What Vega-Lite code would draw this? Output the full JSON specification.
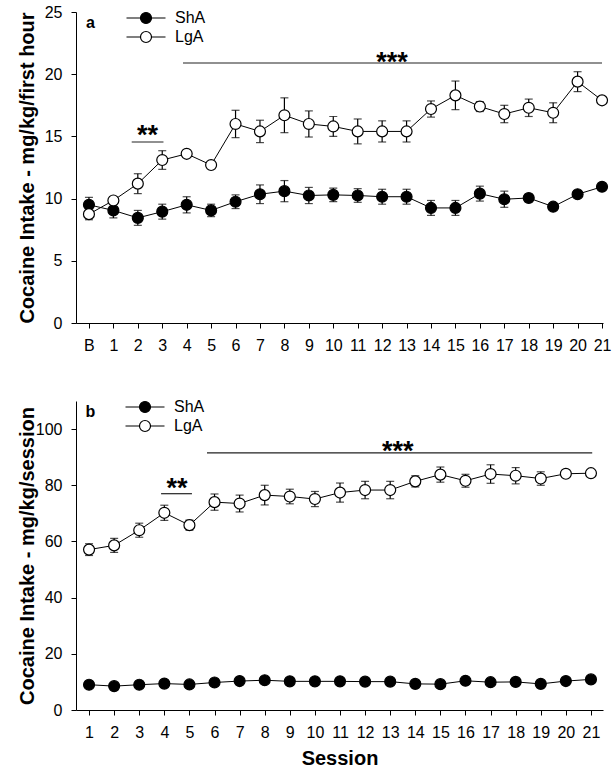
{
  "$schema": "https://vega.github.io/schema/vega-lite/v6.json",
  "background": "white",
  "padding": {"top": 4, "left": 17, "right": 5, "bottom": 5},
  "spacing": 43,
  "config": {
    "view": {"stroke": null},
    "font": "Liberation Sans",
    "axis": {
      "grid": false,
      "domainColor": "black",
      "domainWidth": 1,
      "tickColor": "black",
      "tickSize": 5,
      "labelColor": "black",
      "labelFontSize": 16,
      "labelPadding": 9,
      "titleColor": "black",
      "titleFontSize": 20,
      "titleFontWeight": "bold",
      "labelFlush": false,
      "labelOverlap": false
    },
    "axisY": {"labelPadding": 9, "titleX": -39},
    "axisX": {"titlePadding": 8}
  },
  "datasets": {
    "top": [
      {"s": 0, "g": "ShA", "v": 9.5, "lo": 8.9, "hi": 10.1},
      {"s": 1, "g": "ShA", "v": 9.05, "lo": 8.45, "hi": 9.65},
      {"s": 2, "g": "ShA", "v": 8.45, "lo": 7.85, "hi": 9.05},
      {"s": 3, "g": "ShA", "v": 8.95, "lo": 8.35, "hi": 9.55},
      {"s": 4, "g": "ShA", "v": 9.5, "lo": 8.85, "hi": 10.15},
      {"s": 5, "g": "ShA", "v": 9.05, "lo": 8.55, "hi": 9.55},
      {"s": 6, "g": "ShA", "v": 9.75, "lo": 9.2, "hi": 10.3},
      {"s": 7, "g": "ShA", "v": 10.35, "lo": 9.6, "hi": 11.1},
      {"s": 8, "g": "ShA", "v": 10.6, "lo": 9.75, "hi": 11.45},
      {"s": 9, "g": "ShA", "v": 10.25, "lo": 9.6, "hi": 10.9},
      {"s": 10, "g": "ShA", "v": 10.3, "lo": 9.75, "hi": 10.85},
      {"s": 11, "g": "ShA", "v": 10.25, "lo": 9.7, "hi": 10.8},
      {"s": 12, "g": "ShA", "v": 10.15, "lo": 9.55, "hi": 10.75},
      {"s": 13, "g": "ShA", "v": 10.15, "lo": 9.55, "hi": 10.75},
      {"s": 14, "g": "ShA", "v": 9.25, "lo": 8.65, "hi": 9.85},
      {"s": 15, "g": "ShA", "v": 9.25, "lo": 8.65, "hi": 9.85},
      {"s": 16, "g": "ShA", "v": 10.4, "lo": 9.8, "hi": 11.0},
      {"s": 17, "g": "ShA", "v": 9.95, "lo": 9.3, "hi": 10.6},
      {"s": 18, "g": "ShA", "v": 10.05, "lo": 9.75, "hi": 10.35},
      {"s": 19, "g": "ShA", "v": 9.35, "lo": 9.2, "hi": 9.5},
      {"s": 20, "g": "ShA", "v": 10.35, "lo": 10.2, "hi": 10.5},
      {"s": 21, "g": "ShA", "v": 10.95, "lo": 10.8, "hi": 11.1},
      {"s": 0, "g": "LgA", "v": 8.75, "lo": 8.3, "hi": 9.2},
      {"s": 1, "g": "LgA", "v": 9.85, "lo": 9.65, "hi": 10.05},
      {"s": 2, "g": "LgA", "v": 11.2, "lo": 10.4, "hi": 12.0},
      {"s": 3, "g": "LgA", "v": 13.1, "lo": 12.35, "hi": 13.85},
      {"s": 4, "g": "LgA", "v": 13.6, "lo": 13.45, "hi": 13.75},
      {"s": 5, "g": "LgA", "v": 12.7, "lo": 12.5, "hi": 12.9},
      {"s": 6, "g": "LgA", "v": 16.0, "lo": 14.9, "hi": 17.1},
      {"s": 7, "g": "LgA", "v": 15.4, "lo": 14.5, "hi": 16.3},
      {"s": 8, "g": "LgA", "v": 16.7, "lo": 15.3, "hi": 18.1},
      {"s": 9, "g": "LgA", "v": 16.0, "lo": 14.95, "hi": 17.05},
      {"s": 10, "g": "LgA", "v": 15.8, "lo": 15.0, "hi": 16.6},
      {"s": 11, "g": "LgA", "v": 15.4, "lo": 14.4, "hi": 16.4},
      {"s": 12, "g": "LgA", "v": 15.4, "lo": 14.55, "hi": 16.25},
      {"s": 13, "g": "LgA", "v": 15.4, "lo": 14.55, "hi": 16.25},
      {"s": 14, "g": "LgA", "v": 17.2, "lo": 16.55, "hi": 17.85},
      {"s": 15, "g": "LgA", "v": 18.3, "lo": 17.15, "hi": 19.45},
      {"s": 16, "g": "LgA", "v": 17.4, "lo": 17.0, "hi": 17.8},
      {"s": 17, "g": "LgA", "v": 16.8, "lo": 16.1, "hi": 17.5},
      {"s": 18, "g": "LgA", "v": 17.3, "lo": 16.6, "hi": 18.0},
      {"s": 19, "g": "LgA", "v": 16.9, "lo": 16.1, "hi": 17.7},
      {"s": 20, "g": "LgA", "v": 19.4, "lo": 18.6, "hi": 20.2},
      {"s": 21, "g": "LgA", "v": 17.9, "lo": 17.65, "hi": 18.15}
    ],
    "bottom": [
      {"s": 1, "g": "ShA", "v": 9.0, "lo": 8.4, "hi": 9.6},
      {"s": 2, "g": "ShA", "v": 8.5, "lo": 7.9, "hi": 9.1},
      {"s": 3, "g": "ShA", "v": 9.0, "lo": 8.4, "hi": 9.6},
      {"s": 4, "g": "ShA", "v": 9.4, "lo": 8.8, "hi": 10.0},
      {"s": 5, "g": "ShA", "v": 9.1, "lo": 8.5, "hi": 9.7},
      {"s": 6, "g": "ShA", "v": 9.8, "lo": 9.2, "hi": 10.4},
      {"s": 7, "g": "ShA", "v": 10.3, "lo": 9.7, "hi": 10.9},
      {"s": 8, "g": "ShA", "v": 10.6, "lo": 10.0, "hi": 11.2},
      {"s": 9, "g": "ShA", "v": 10.2, "lo": 9.6, "hi": 10.8},
      {"s": 10, "g": "ShA", "v": 10.2, "lo": 9.6, "hi": 10.8},
      {"s": 11, "g": "ShA", "v": 10.2, "lo": 9.6, "hi": 10.8},
      {"s": 12, "g": "ShA", "v": 10.1, "lo": 9.5, "hi": 10.7},
      {"s": 13, "g": "ShA", "v": 10.1, "lo": 9.5, "hi": 10.7},
      {"s": 14, "g": "ShA", "v": 9.3, "lo": 8.7, "hi": 9.9},
      {"s": 15, "g": "ShA", "v": 9.2, "lo": 8.6, "hi": 9.8},
      {"s": 16, "g": "ShA", "v": 10.4, "lo": 9.8, "hi": 11.0},
      {"s": 17, "g": "ShA", "v": 9.9, "lo": 9.3, "hi": 10.5},
      {"s": 18, "g": "ShA", "v": 10.0, "lo": 9.4, "hi": 10.6},
      {"s": 19, "g": "ShA", "v": 9.3, "lo": 8.7, "hi": 9.9},
      {"s": 20, "g": "ShA", "v": 10.3, "lo": 9.7, "hi": 10.9},
      {"s": 21, "g": "ShA", "v": 10.9, "lo": 10.3, "hi": 11.5},
      {"s": 1, "g": "LgA", "v": 57.1, "lo": 55.0, "hi": 59.2},
      {"s": 2, "g": "LgA", "v": 58.6, "lo": 56.1, "hi": 61.1},
      {"s": 3, "g": "LgA", "v": 64.0, "lo": 61.5, "hi": 66.5},
      {"s": 4, "g": "LgA", "v": 70.2, "lo": 67.5, "hi": 72.9},
      {"s": 5, "g": "LgA", "v": 65.8, "lo": 64.0, "hi": 67.6},
      {"s": 6, "g": "LgA", "v": 74.0, "lo": 71.1, "hi": 76.9},
      {"s": 7, "g": "LgA", "v": 73.5, "lo": 70.5, "hi": 76.5},
      {"s": 8, "g": "LgA", "v": 76.5, "lo": 73.0, "hi": 80.0},
      {"s": 9, "g": "LgA", "v": 76.0, "lo": 73.4, "hi": 78.6},
      {"s": 10, "g": "LgA", "v": 75.1, "lo": 72.4, "hi": 77.8},
      {"s": 11, "g": "LgA", "v": 77.4, "lo": 74.0, "hi": 80.8},
      {"s": 12, "g": "LgA", "v": 78.3, "lo": 75.2, "hi": 81.4},
      {"s": 13, "g": "LgA", "v": 78.3, "lo": 75.2, "hi": 81.4},
      {"s": 14, "g": "LgA", "v": 81.4, "lo": 79.4, "hi": 83.4},
      {"s": 15, "g": "LgA", "v": 83.8, "lo": 81.1, "hi": 86.5},
      {"s": 16, "g": "LgA", "v": 81.6, "lo": 79.3, "hi": 83.9},
      {"s": 17, "g": "LgA", "v": 84.0, "lo": 80.7, "hi": 87.3},
      {"s": 18, "g": "LgA", "v": 83.4, "lo": 80.5, "hi": 86.3},
      {"s": 19, "g": "LgA", "v": 82.4, "lo": 80.0, "hi": 84.8},
      {"s": 20, "g": "LgA", "v": 84.1, "lo": 82.8, "hi": 85.4},
      {"s": 21, "g": "LgA", "v": 84.3, "lo": 83.1, "hi": 85.5}
    ],
    "topSig": [
      {"x1": 1.75, "x2": 3.05, "y": 14.55},
      {"x1": 3.85, "x2": 21.0, "y": 20.9}
    ],
    "topTxt": [
      {"x": 2.4, "y": 14.35, "t": "**"},
      {"x": 12.4, "y": 20.25, "t": "***"}
    ],
    "topLetter": [{"x": -0.12, "y": 23.7, "t": "a"}],
    "bottomSig": [
      {"x1": 3.87, "x2": 5.1, "y": 77.0},
      {"x1": 5.7, "x2": 21.05, "y": 91.5}
    ],
    "bottomTxt": [
      {"x": 4.5, "y": 75.9, "t": "**"},
      {"x": 13.3, "y": 89.0, "t": "***"}
    ],
    "bottomLetter": [{"x": 0.86, "y": 104.3, "t": "b"}]
  },
  "resolve": {
    "scale": {"x": "independent", "y": "independent", "fill": "independent"},
    "legend": {"fill": "independent"}
  },
  "vconcat": [
    {
      "width": 527,
      "height": 311,
      "encoding": {
        "x": {"field": "s", "type": "quantitative",
          "scale": {"domain": [-0.53, 21.04], "nice": false, "zero": false},
          "axis": {"title": null, "values": [0,1,2,3,4,5,6,7,8,9,10,11,12,13,14,15,16,17,18,19,20,21],
            "labelExpr": "datum.value == 0 ? 'B' : datum.label"}},
        "y": {"field": "v", "type": "quantitative",
          "scale": {"domain": [0, 25], "nice": false},
          "axis": {"title": "Cocaine Intake - mg/kg/first hour", "values": [0, 5, 10, 15, 20, 25]}}
      },
      "layer": [
        {
          "data": {"name": "top"},
          "mark": {"type": "line", "color": "black", "strokeWidth": 1},
          "encoding": {"detail": {"field": "g"}}
        },
        {
          "data": {"name": "top"},
          "mark": {"type": "rule", "color": "black", "strokeWidth": 1.2},
          "encoding": {"y": {"field": "lo", "type": "quantitative"}, "y2": {"field": "hi"}}
        },
        {
          "data": {"name": "top"},
          "mark": {"type": "tick", "orient": "horizontal", "color": "black", "size": 8, "thickness": 1.2},
          "encoding": {"y": {"field": "lo", "type": "quantitative"}}
        },
        {
          "data": {"name": "top"},
          "mark": {"type": "tick", "orient": "horizontal", "color": "black", "size": 8, "thickness": 1.2},
          "encoding": {"y": {"field": "hi", "type": "quantitative"}}
        },
        {
          "data": {"name": "top"},
          "mark": {"type": "point", "shape": "circle", "filled": true, "size": 120, "stroke": "black", "strokeWidth": 1.2, "opacity": 1},
          "encoding": {
            "fill": {"field": "g", "type": "nominal",
              "scale": {"domain": ["ShA", "LgA"], "range": ["black", "white"]},
              "legend": {"orient": "none", "legendX": 59, "legendY": -5, "title": null,
                "symbolType": "M-1.95,0H-0.55M0.55,0H1.95M-0.55,0A0.55,0.55 0 1,1 0.55,0A0.55,0.55 0 1,1 -0.55,0Z",
                "symbolSize": 400, "symbolStrokeColor": "black", "symbolStrokeWidth": 1.2,
                "labelFontSize": 16, "labelOffset": 18, "rowPadding": 0, "labelColor": "black", "padding": 0}}
          }
        },
        {
          "data": {"name": "topSig"},
          "mark": {"type": "rule", "color": "#222", "strokeWidth": 1.2},
          "encoding": {
            "x": {"field": "x1", "type": "quantitative"},
            "x2": {"field": "x2"},
            "y": {"field": "y", "type": "quantitative"}
          }
        },
        {
          "data": {"name": "topTxt"},
          "mark": {"type": "text", "fontSize": 27, "fontWeight": "bold", "color": "black", "baseline": "alphabetic", "align": "center"},
          "encoding": {
            "x": {"field": "x", "type": "quantitative"},
            "y": {"field": "y", "type": "quantitative"},
            "text": {"field": "t"}
          }
        },
        {
          "data": {"name": "topLetter"},
          "mark": {"type": "text", "fontSize": 16, "fontWeight": "bold", "color": "black", "baseline": "alphabetic", "align": "left"},
          "encoding": {
            "x": {"field": "x", "type": "quantitative"},
            "y": {"field": "y", "type": "quantitative"},
            "text": {"field": "t"}
          }
        }
      ]
    },
    {
      "width": 527,
      "height": 309,
      "encoding": {
        "x": {"field": "s", "type": "quantitative",
          "scale": {"domain": [0.48, 21.48], "nice": false, "zero": false},
          "axis": {"title": "Session", "values": [1,2,3,4,5,6,7,8,9,10,11,12,13,14,15,16,17,18,19,20,21]}},
        "y": {"field": "v", "type": "quantitative",
          "scale": {"domain": [0, 110], "nice": false},
          "axis": {"title": "Cocaine Intake - mg/kg/session", "values": [0, 20, 40, 60, 80, 100]}}
      },
      "layer": [
        {
          "data": {"name": "bottom"},
          "mark": {"type": "line", "color": "black", "strokeWidth": 1},
          "encoding": {"detail": {"field": "g"}}
        },
        {
          "data": {"name": "bottom"},
          "mark": {"type": "rule", "color": "black", "strokeWidth": 1.2},
          "encoding": {"y": {"field": "lo", "type": "quantitative"}, "y2": {"field": "hi"}}
        },
        {
          "data": {"name": "bottom"},
          "mark": {"type": "tick", "orient": "horizontal", "color": "black", "size": 8, "thickness": 1.2},
          "encoding": {"y": {"field": "lo", "type": "quantitative"}}
        },
        {
          "data": {"name": "bottom"},
          "mark": {"type": "tick", "orient": "horizontal", "color": "black", "size": 8, "thickness": 1.2},
          "encoding": {"y": {"field": "hi", "type": "quantitative"}}
        },
        {
          "data": {"name": "bottom"},
          "mark": {"type": "point", "shape": "circle", "filled": true, "size": 120, "stroke": "black", "strokeWidth": 1.2, "opacity": 1},
          "encoding": {
            "fill": {"field": "g", "type": "nominal",
              "scale": {"domain": ["ShA", "LgA"], "range": ["black", "white"]},
              "legend": {"orient": "none", "legendX": 58, "legendY": -5, "title": null,
                "symbolType": "M-1.95,0H-0.55M0.55,0H1.95M-0.55,0A0.55,0.55 0 1,1 0.55,0A0.55,0.55 0 1,1 -0.55,0Z",
                "symbolSize": 400, "symbolStrokeColor": "black", "symbolStrokeWidth": 1.2,
                "labelFontSize": 16, "labelOffset": 18, "rowPadding": 0, "labelColor": "black", "padding": 0}}
          }
        },
        {
          "data": {"name": "bottomSig"},
          "mark": {"type": "rule", "color": "#222", "strokeWidth": 1.2},
          "encoding": {
            "x": {"field": "x1", "type": "quantitative"},
            "x2": {"field": "x2"},
            "y": {"field": "y", "type": "quantitative"}
          }
        },
        {
          "data": {"name": "bottomTxt"},
          "mark": {"type": "text", "fontSize": 27, "fontWeight": "bold", "color": "black", "baseline": "alphabetic", "align": "center"},
          "encoding": {
            "x": {"field": "x", "type": "quantitative"},
            "y": {"field": "y", "type": "quantitative"},
            "text": {"field": "t"}
          }
        },
        {
          "data": {"name": "bottomLetter"},
          "mark": {"type": "text", "fontSize": 16, "fontWeight": "bold", "color": "black", "baseline": "alphabetic", "align": "left"},
          "encoding": {
            "x": {"field": "x", "type": "quantitative"},
            "y": {"field": "y", "type": "quantitative"},
            "text": {"field": "t"}
          }
        }
      ]
    }
  ]
}
